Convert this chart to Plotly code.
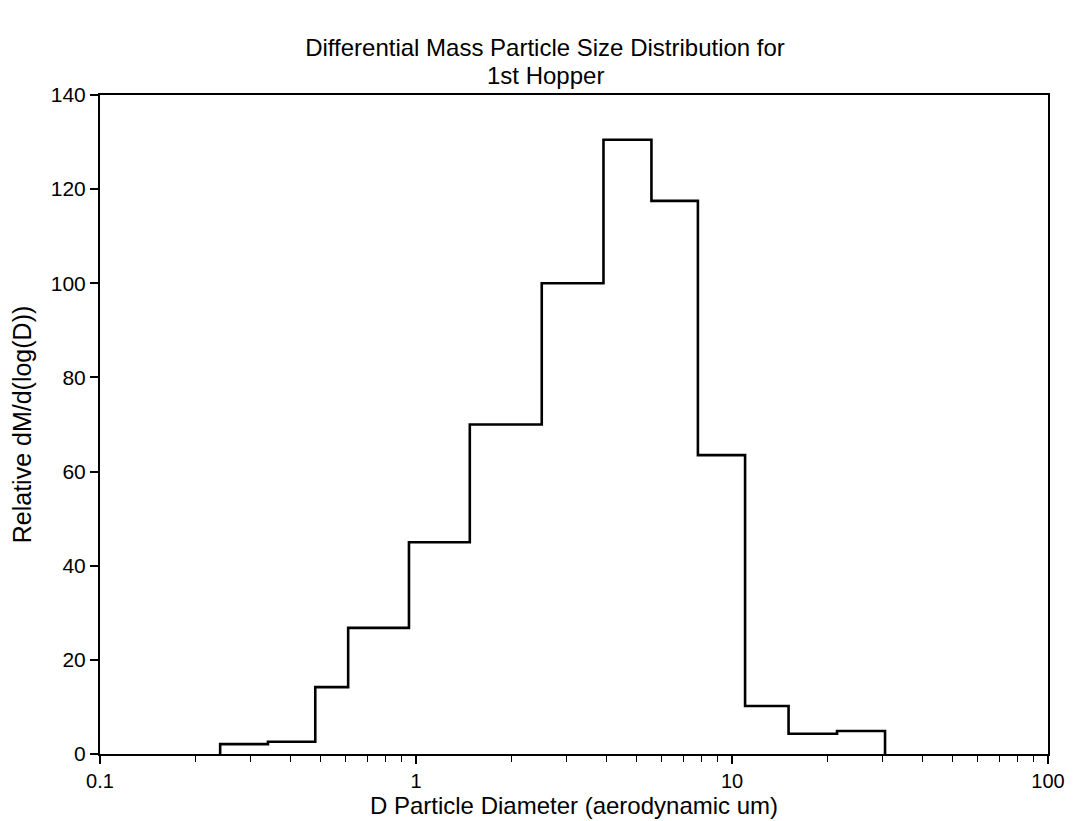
import plotly.graph_objects as go

# Bin edges (aerodynamic diameter, um) and relative dM/dlog(D) per bin
bin_edges = [0.24, 0.34, 0.48, 0.61, 0.95, 1.48, 2.5, 3.92, 5.56, 7.8, 11.0, 15.1, 21.5, 30.5]
bin_values = [2.1, 2.6, 14.2, 26.8, 45.0, 70.0, 100.0, 130.5, 117.5, 63.5, 10.2, 4.3, 4.9]

x_tick_vals = [0.1, 1, 10, 100]
x_tick_text = ["0.1", "1", "10", "100"]
y_tick_vals = [0, 20, 40, 60, 80, 100, 120, 140]

title_lines = ["Differential Mass Particle Size Distribution for", "1st Hopper"]

# Build step outline points from the bins
xs = [bin_edges[0]] + bin_edges
ys = [0] + bin_values + [0]

minor_vals = [d * 10.0 ** e for e in (-1, 0, 1) for d in range(2, 10)]

FONT = "Liberation Sans, Arial, sans-serif"
W, H = 1065, 813  # page body has an 8px default margin
ML, MR, MT, MB = 92, 25, 87, 67

fig = go.Figure()
fig.add_trace(go.Scatter(
    x=xs, y=ys, mode="lines", line=dict(shape="hv", color="black", width=2.6),
    showlegend=False, hoverinfo="skip"))

fig.update_layout(
    width=W, height=H,
    paper_bgcolor="white", plot_bgcolor="white",
    margin=dict(l=ML, r=MR, t=MT, b=MB, autoexpand=False),
    font=dict(family=FONT, color="black", size=20),
    title=dict(text=title_lines[0],
               x=(545 - 8) / W, xanchor="center", xref="container",
               y=1 - (48 - 8) / H, yanchor="middle", yref="container",
               font=dict(family=FONT, size=24, color="black")),
)
fig.add_annotation(
    text=title_lines[1], xref="paper", yref="paper",
    x=(545 - 8 - ML) / (W - ML - MR), y=1 + (95 - 75) / (H - MT - MB),
    xanchor="center", yanchor="middle", showarrow=False,
    font=dict(family=FONT, size=24, color="black"))

fig.update_xaxes(
    type="log", range=[-1, 2], automargin=False,
    tickvals=x_tick_vals, ticktext=x_tick_text,
    ticks="outside", ticklen=8, tickwidth=1.5, tickcolor="black",
    minor=dict(tickvals=minor_vals, ticks="outside", ticklen=6, tickwidth=1.2,
               tickcolor="black", showgrid=False),
    showline=True, linecolor="black", linewidth=2, mirror=True,
    showgrid=False, zeroline=False,
    tickfont=dict(size=20),
    title=dict(text="D Particle Diameter (aerodynamic um)", font=dict(size=24), standoff=2),
)
fig.update_yaxes(
    range=[0, 140], tickvals=y_tick_vals, automargin=False,
    ticks="outside", ticklen=8, tickwidth=1.5, tickcolor="black",
    showline=True, linecolor="black", linewidth=2, mirror=True,
    showgrid=False, zeroline=False,
    tickfont=dict(size=21),
    title=dict(text="Relative dM/d(log(D))", font=dict(size=25), standoff=12),
)

fig.write_html("out.html")
